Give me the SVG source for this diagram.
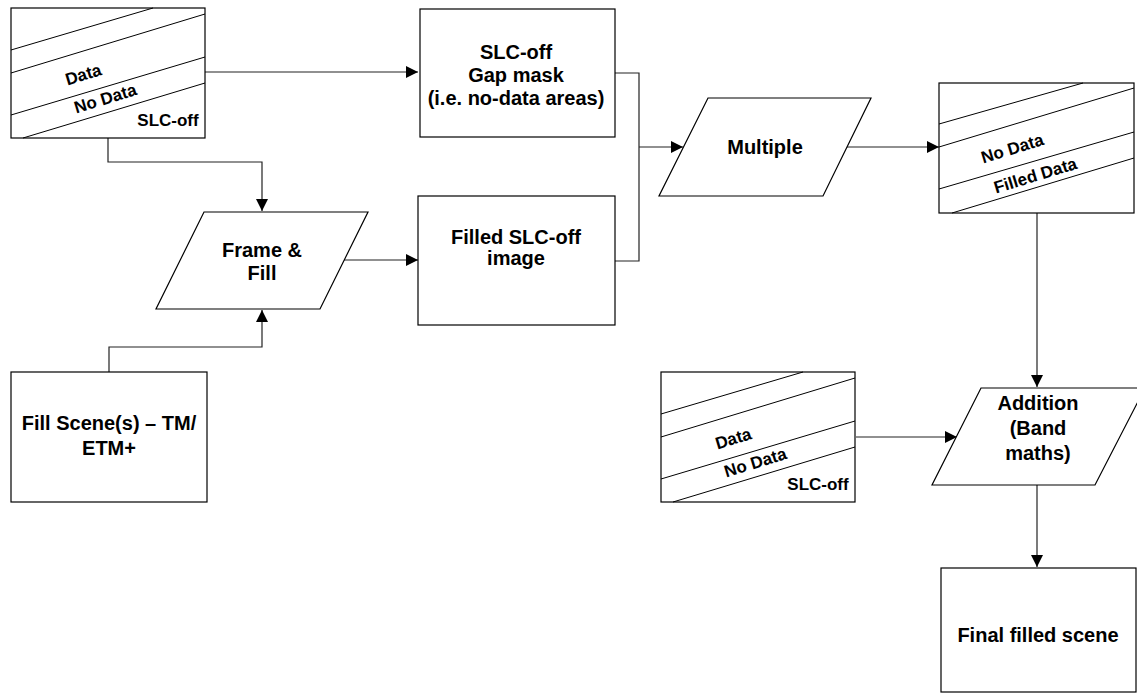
<svg xmlns="http://www.w3.org/2000/svg" width="1137" height="697" viewBox="0 0 1137 697">
<style>
.shape{fill:#fff;stroke:#000;stroke-width:1.2}
.hatch{fill:none;stroke:#000;stroke-width:1}
.conn{fill:none;stroke:#222;stroke-width:1.2}
.t{font-family:"Liberation Sans",Arial,sans-serif;font-weight:bold;font-size:20px;fill:#000;text-anchor:middle}
.s{font-family:"Liberation Sans",Arial,sans-serif;font-weight:bold;font-size:17px;fill:#000;text-anchor:middle}
</style>
<defs>
<marker id="arr" markerUnits="userSpaceOnUse" markerWidth="14" markerHeight="12" refX="12" refY="6" orient="auto">
<path d="M0,0 L12,6 L0,12 Z" fill="#000"/>
</marker>
<g id="dataBox">
<rect class="shape" x="0" y="0" width="194" height="130"/>
<line class="hatch" x1="0" y1="42" x2="142" y2="0"/>
<line class="hatch" x1="0" y1="65" x2="194" y2="6"/>
<line class="hatch" x1="0" y1="107" x2="194" y2="49"/>
<line class="hatch" x1="12" y1="130" x2="194" y2="75"/>
</g>
</defs>
<g id="connectors">
<path class="conn" d="M205,72 H418" marker-end="url(#arr)"/>
<path class="conn" d="M108,138 V162 H262 V211" marker-end="url(#arr)"/>
<path class="conn" d="M109,372 V347 H262 V310" marker-end="url(#arr)"/>
<path class="conn" d="M344,260 H418" marker-end="url(#arr)"/>
<path class="conn" d="M615,73 H639 V261 H615"/>
<path class="conn" d="M639,147 H683" marker-end="url(#arr)"/>
<path class="conn" d="M847,147 H939" marker-end="url(#arr)"/>
<path class="conn" d="M1037,213 V387" marker-end="url(#arr)"/>
<path class="conn" d="M856,437 H957" marker-end="url(#arr)"/>
<path class="conn" d="M1037,485 V567" marker-end="url(#arr)"/>
</g>
<g id="slcOffScene1">
<use href="#dataBox" x="11" y="8"/>
<text class="s" transform="translate(85,80) rotate(-17)">Data</text>
<text class="s" transform="translate(107,104) rotate(-17)">No Data</text>
<text class="s" x="168" y="126">SLC-off</text>
</g>
<g id="gapMask">
<rect class="shape" x="420" y="9" width="195" height="128"/>
<text class="t" x="516" y="59">SLC-off</text>
<text class="t" x="516" y="82">Gap mask</text>
<text class="t" x="516" y="105">(i.e. no-data areas)</text>
</g>
<g id="frameFill">
<polygon class="shape" points="204,212 368,212 320,309 156,309"/>
<text class="t" x="262" y="257">Frame &amp;</text>
<text class="t" x="262" y="280">Fill</text>
</g>
<g id="filledImage">
<rect class="shape" x="418" y="196" width="197" height="129"/>
<text class="t" x="516" y="244">Filled SLC-off</text>
<text class="t" x="516" y="265">image</text>
</g>
<g id="fillScene">
<rect class="shape" x="11" y="372" width="196" height="130"/>
<text class="t" x="109" y="430">Fill Scene(s) – TM/</text>
<text class="t" x="109" y="455">ETM+</text>
</g>
<g id="multiple">
<polygon class="shape" points="708,98 871,98 823,196 659,196"/>
<text class="t" x="765" y="154">Multiple</text>
</g>
<g id="filledData">
<rect class="shape" x="939" y="83" width="195" height="130"/>
<line class="hatch" x1="939" y1="124" x2="1083" y2="83"/>
<line class="hatch" x1="939" y1="147" x2="1134" y2="88"/>
<line class="hatch" x1="939" y1="189" x2="1134" y2="132"/>
<line class="hatch" x1="952" y1="213" x2="1134" y2="158"/>
<text class="s" transform="translate(1014,154) rotate(-17)">No Data</text>
<text class="s" transform="translate(1037,181) rotate(-17)">Filled Data</text>
</g>
<g id="slcOffScene2">
<use href="#dataBox" x="661" y="372"/>
<text class="s" transform="translate(735,444) rotate(-17)">Data</text>
<text class="s" transform="translate(757,468) rotate(-17)">No Data</text>
<text class="s" x="818" y="490">SLC-off</text>
</g>
<g id="addition">
<polygon class="shape" points="981,388 1145,388 1095,485 932,485"/>
<text class="t" x="1038" y="410">Addition</text>
<text class="t" x="1038" y="435">(Band</text>
<text class="t" x="1038" y="460">maths)</text>
</g>
<g id="finalScene">
<rect class="shape" x="941" y="568" width="195" height="124"/>
<text class="t" x="1038" y="642">Final filled scene</text>
</g>
</svg>
